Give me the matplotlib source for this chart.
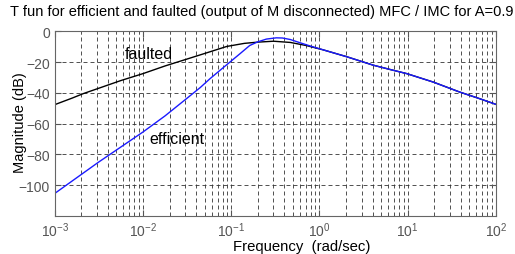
import matplotlib
matplotlib.use("Agg")
import matplotlib.pyplot as plt
from matplotlib.ticker import LogLocator, NullFormatter

# frequency points (rad/sec) and magnitudes (dB)
faulted_w = [0.001, 0.00158, 0.00211, 0.00316, 0.00562, 0.01, 0.0178, 0.0316,
             0.0525, 0.0891, 0.141, 0.2, 0.302, 0.468, 0.708, 1.1, 2.04,
             4.07, 6.31, 9.77, 19.5, 38.9, 63.1, 100.0]
faulted_db = [-47.7, -43.4, -40.5, -37.0, -32.0, -27.5, -22.5, -18.0,
              -14.0, -9.8, -7.8, -7.0, -6.4, -7.2, -9.2, -12.0, -16.5,
              -22.0, -24.8, -27.5, -33.0, -39.5, -43.5, -47.5]

efficient_w = [0.001, 0.00316, 0.01, 0.0178, 0.0316, 0.0447, 0.0575, 0.0759,
               0.0966, 0.126, 0.162, 0.2, 0.251, 0.324, 0.380, 0.468, 0.603,
               0.794, 1.1, 2.04, 4.07, 6.31, 9.77, 19.5, 38.9, 63.1, 100.0]
efficient_db = [-105.5, -85.0, -65.5, -55.0, -43.5, -36.5, -30.8, -25.0,
                -20.0, -14.5, -9.2, -6.8, -5.0, -4.2, -4.3, -5.3, -7.4,
                -9.6, -12.0, -16.5, -22.0, -24.8, -27.5, -33.0, -39.5,
                -43.5, -47.5]

y_ticks = [-100, -80, -60, -40, -20, 0]

plt.rcParams["font.family"] = ["Liberation Sans", "DejaVu Sans"]
plt.rcParams["mathtext.fontset"] = "custom"
plt.rcParams["mathtext.rm"] = "Liberation Sans"

fig = plt.figure(figsize=(5.15, 2.55), dpi=100)
ax = fig.add_axes([0.1062, 0.150, 0.8568, 0.723])

ax.semilogx(faulted_w, faulted_db, color="black", lw=1.0)
ax.semilogx(efficient_w, efficient_db, color="#1a1aff", lw=1.0)

ax.set_xlim(1e-3, 1e2)
ax.set_ylim(-120, 0)
ax.set_yticks(y_ticks)
ax.xaxis.set_major_locator(LogLocator(base=10, numticks=10))
ax.xaxis.set_minor_locator(LogLocator(base=10, subs=range(2, 10), numticks=20))
ax.xaxis.set_minor_formatter(NullFormatter())

grid_style = dict(color="#333333", linestyle=(0, (4.8, 3.6)), linewidth=0.6)
ax.grid(True, which="major", axis="both", **grid_style)
ax.grid(True, which="minor", axis="x", **grid_style)

ax.tick_params(which="both", direction="in", top=True, right=True,
               labelsize=10, labelcolor="#555555", color="#555555")
ax.tick_params(which="major", length=4)
ax.tick_params(which="minor", length=2)
for spine in ax.spines.values():
    spine.set_color("#666666")
    spine.set_linewidth(0.8)

fig.text(0.509, 0.953,
         "T fun for efficient and faulted (output of M disconnected) MFC / IMC for A=0.9",
         fontsize=10.5, ha="center", va="center")
ax.set_xlabel("Frequency  (rad/sec)", fontsize=10.7)
ax.xaxis.set_label_coords(0.559, -0.125)
ax.set_ylabel("Magnitude (dB)", fontsize=10.5)
ax.yaxis.set_label_coords(-0.063, 0.511)

ax.text(0.00625, -14.5, "faulted", fontsize=11.5, va="center", ha="left")
ax.text(0.0118, -69.7, "efficient", fontsize=11.5, va="center", ha="left")

fig.savefig("out.png", dpi=100)
